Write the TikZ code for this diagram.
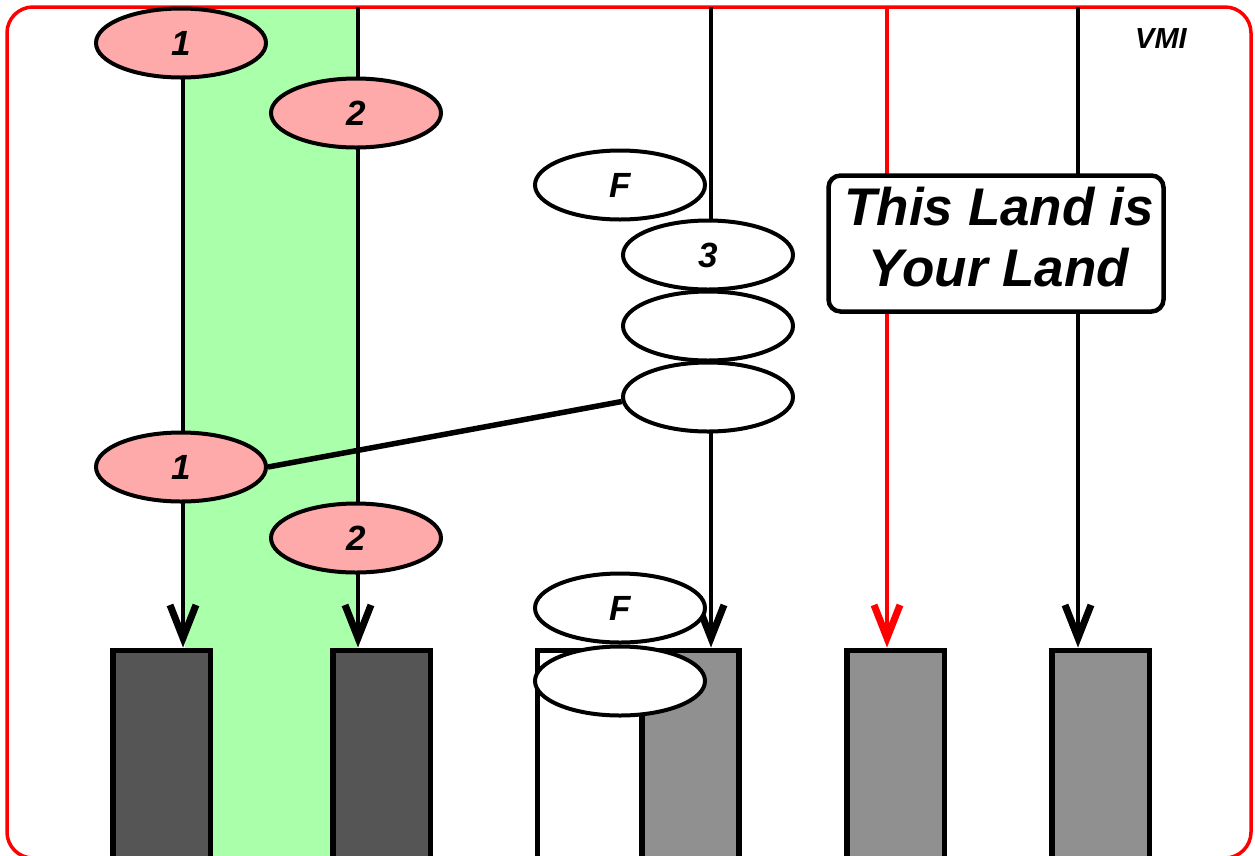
\documentclass[tikz,border=0pt]{standalone}
\usepackage{fontspec}
\setmainfont{Liberation Sans}
\usetikzlibrary{arrows.meta,shapes.geometric}
\definecolor{pinkfill}{HTML}{FFAAAA}
\definecolor{greenband}{HTML}{AAFFAA}
\definecolor{darkbar}{HTML}{555555}
\definecolor{lightbar}{HTML}{909090}
\definecolor{framered}{HTML}{FF0000}
\begin{document}
\begin{tikzpicture}[x=1pt,y=-1pt,
  ell/.style={draw=black, line width=4pt, ellipse, minimum width=170pt, minimum height=69pt, inner sep=0pt,
    font=\fontsize{35}{40}\selectfont\bfseries\itshape},
  pinkell/.style={ell, fill=pinkfill},
  whiteell/.style={ell, fill=white},
  bar/.style={draw=black, line width=5.5pt, minimum width=97.5pt, minimum height=260pt, anchor=north, inner sep=0pt},
  darkb/.style={bar, fill=darkbar},
  lightb/.style={bar, fill=lightbar},
  vline/.style={line width=4.5pt},
  arr/.style={vline, -{Straight Barb[length=33pt,width=26pt,line width'=7pt]}},
  conn/.style={line width=5.5pt}
]
\useasboundingbox (0,0) rectangle (1255,855);
% green band
\fill[greenband] (185,7) rectangle (357,860);
% frame
\draw[framered, line width=3.5pt, rounded corners=26pt] (7,7) rectangle (1251,858);
% top coordinates of the lines
\coordinate (tA) at (183,7);
\coordinate (tB) at (358,7);
\coordinate (tC) at (711,7);
\coordinate (tD) at (887,7);
\coordinate (tE) at (1078,7);
% bars
\node[darkb] (barA) at (161.5,647.5) {};
\node[darkb] (barB) at (381.5,647.5) {};
\node[bar, fill=white, minimum width=201.5pt] (barCw) at (638,647.5) {};
\node[lightb, minimum width=97pt] (barC) at (690.5,647.5) {};
\node[lightb] (barD) at (895.5,647.5) {};
\node[lightb] (barE) at (1100.5,647.5) {};
% vertical arrows
\draw[arr] (tA) -- (tA |- barA.north);
\draw[arr] (tB) -- (tB |- barB.north);
\draw[arr] (tC) -- (tC |- barC.north);
\draw[arr, framered] (tD) -- (tD |- barD.north);
\draw[arr] (tE) -- (tE |- barE.north);
% ellipses
\node[pinkell] (p1a) at (181,43) {1};
\node[pinkell] (p2a) at (356,113) {2};
\node[whiteell] (fa) at (620,185) {F};
\node[whiteell] (e3) at (708,255) {3};
\node[whiteell] (e5) at (708,326) {};
\node[whiteell] (e6) at (708,397) {};
\node[pinkell] (p1b) at (181,467) {1};
\node[pinkell] (p2b) at (356,538) {2};
\node[whiteell] (fb) at (620,608) {F};
\node[whiteell] (eb) at (620,681) {};
% connector
\draw[conn] (p1b.east) -- (e6.183);
% text box
\node[draw=black, line width=4.5pt, fill=white, rounded corners=12pt, minimum width=335pt, minimum height=136pt,
  inner sep=0pt] (land) at (996,243.5) {};
\node[align=center, inner sep=0pt, font=\fontsize{53}{61}\selectfont\bfseries\itshape] (landtext) at (999,237)
  {This Land is\\Your Land};
% VMI
\node[font=\fontsize{29}{34}\selectfont\bfseries\itshape, inner sep=0pt] (vmi) at (1161,39) {VMI};
\end{tikzpicture}
\end{document}
